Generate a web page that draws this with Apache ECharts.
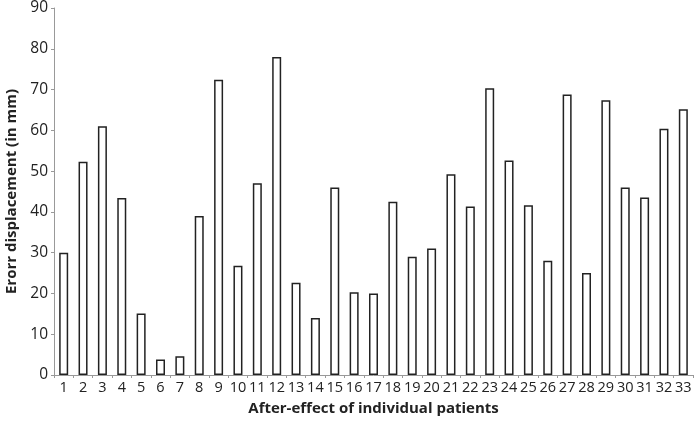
<!DOCTYPE html>
<html>
<head>
<meta charset="utf-8">
<script src="https://cdn.jsdelivr.net/npm/echarts@6/dist/echarts.min.js"></script>
<style>
  html, body { margin: 0; padding: 0; background: #fff; }
  #chart { width: 696px; height: 421px; }
</style>
</head>
<body>
<div id="chart"></div>
<script>
// patient numbers on the x axis
const patients = ['1','2','3','4','5','6','7','8','9','10','11','12','13','14','15','16','17',
  '18','19','20','21','22','23','24','25','26','27','28','29','30','31','32','33'];
// error displacement in mm
const displacement = [30, 52.3, 61, 43.4, 15.1, 3.8, 4.6, 39, 72.4, 26.8, 47, 78, 22.6, 14, 46,
  20.3, 20, 42.5, 29, 31, 49.2, 41.3, 70.3, 52.6, 41.6, 28, 68.8, 25, 67.4, 46, 43.5, 60.4, 65.2];
const yTicks = { min: 0, max: 90, interval: 10 };

const chart = echarts.init(document.getElementById('chart'));
chart.setOption({
  animation: false,
  grid: { left: 54, right: 3, top: 8, bottom: 46, containLabel: false, outerBoundsMode: 'none' },
  xAxis: {
    type: 'category',
    data: patients,
    name: 'After-effect of individual patients',
    nameLocation: 'middle',
    nameGap: 26,
    nameTextStyle: { fontFamily: 'Open Sans', fontSize: 15, fontWeight: 'bold', color: '#222' },
    axisLine: { lineStyle: { color: '#999', width: 1 } },
    axisTick: { show: true, length: 3, lineStyle: { color: '#999' } },
    axisLabel: { interval: 0, fontFamily: 'Open Sans', fontSize: 14.5, color: '#222', margin: 5 }
  },
  yAxis: {
    type: 'value',
    min: yTicks.min,
    max: yTicks.max,
    interval: yTicks.interval,
    name: 'Erorr displacement (in mm)',
    nameLocation: 'middle',
    nameGap: 28,
    nameTextStyle: { fontFamily: 'Open Sans', fontSize: 15, fontWeight: 'bold', color: '#222' },
    axisLine: { show: true, lineStyle: { color: '#999', width: 1 } },
    axisTick: { show: true, length: 3, lineStyle: { color: '#999' } },
    axisLabel: { fontFamily: 'Open Sans', fontSize: 15.5, color: '#222', margin: 6 },
    splitLine: { show: false }
  },
  series: [{
    type: 'bar',
    data: displacement,
    barWidth: 9,
    itemStyle: { color: '#fff', borderColor: '#222', borderWidth: 1.5 }
  }]
});
</script>
</body>
</html>
